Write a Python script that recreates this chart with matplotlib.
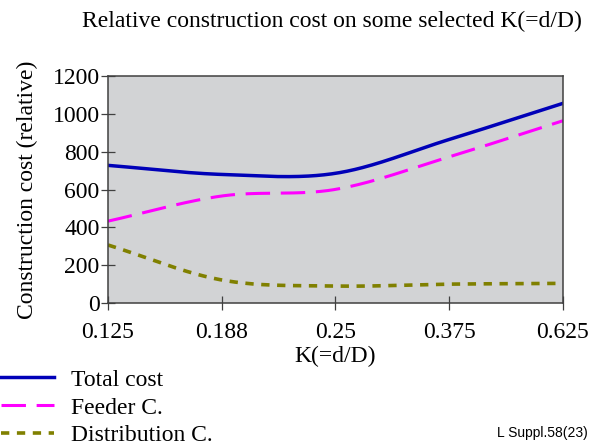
import matplotlib
matplotlib.use("Agg")
import matplotlib.pyplot as plt
import numpy as np

k_labels = ["0.125", "0.188", "0.25", "0.375", "0.625"]
total_cost = [728, 680, 686, 865, 1056]
feeder_cost = [433, 566, 601, 773, 964]
distribution_cost = [307, 122, 90, 100, 104]


def smooth(ys, n=60):
    # Catmull-Rom style smoothing, like a spreadsheet "smoothed line"
    ys = np.asarray(ys, dtype=float)
    xs = np.arange(len(ys), dtype=float)
    px = np.concatenate([[2 * xs[0] - xs[1]], xs, [2 * xs[-1] - xs[-2]]])
    py = np.concatenate([[ys[0]], ys, [ys[-1]]])
    out_x, out_y = [], []
    t = np.linspace(0, 1, n)
    for i in range(1, len(px) - 2):
        p0, p1, p2, p3 = py[i - 1], py[i], py[i + 1], py[i + 2]
        if i == 1:
            p0 = 2 * p1 - p2
        if i == len(px) - 3:
            p3 = 2 * p2 - p1
        y = 0.5 * ((2 * p1) + (-p0 + p2) * t + (2 * p0 - 5 * p1 + 4 * p2 - p3) * t ** 2
                   + (-p0 + 3 * p1 - 3 * p2 + p3) * t ** 3)
        x = px[i] + (px[i + 1] - px[i]) * t
        out_x.extend(x)
        out_y.extend(y)
    return np.array(out_x), np.array(out_y)


plt.rcParams["font.family"] = "Liberation Serif"
fs = 17

fig = plt.figure(figsize=(5.92, 4.45), dpi=100)
ax = fig.add_axes([0.1824, 0.319, 0.7686, 0.51])
ax.set_facecolor("#d2d3d5")

x, y = smooth(total_cost)
ax.plot(x, y, color="#0000b8", linewidth=2.5, label="Total cost")
x, y = smooth(feeder_cost)
ax.plot(x, y, color="#ff00ff", linewidth=2.2, dashes=(8, 3.5), label="Feeder C.")
x, y = smooth(distribution_cost)
ax.plot(x, y, color="#808000", linewidth=2.6, dashes=(2.3, 2.1), label="Distribution C.")

ax.set_xlim(0, len(k_labels) - 1)
ax.set_ylim(0, 1200)
ax.set_xticks(range(len(k_labels)))
ax.set_xticklabels(k_labels)
ax.set_yticks(range(0, 1201, 200))
ax.tick_params(direction="inout", length=10, width=0.9, color="#404040",
               labelsize=fs, pad=1)
ax.tick_params(axis="x", pad=9)
for s in ax.spines.values():
    s.set_color("#404040")
    s.set_linewidth(1.1)

ax.set_xlabel("K(=d/D)", fontsize=fs, labelpad=2)
ax.set_ylabel("Construction cost (relative)", fontsize=fs)
ax.yaxis.set_label_coords(-0.154, 0.5)

fig.text(0.561, 0.952, "Relative construction cost on some selected K(=d/D)",
         ha="center", va="center", fontsize=fs)

fig.legend(loc="lower left", bbox_to_anchor=(-0.023, -0.035), frameon=False,
           fontsize=fs, handlelength=2.25, handletextpad=0.72, labelspacing=0.27,
           borderaxespad=0.2)

fig.text(0.993, 0.027, "L Suppl.58(23)", ha="right", va="center",
         fontsize=10, family="Liberation Sans")

fig.savefig("out.png", dpi=100)
